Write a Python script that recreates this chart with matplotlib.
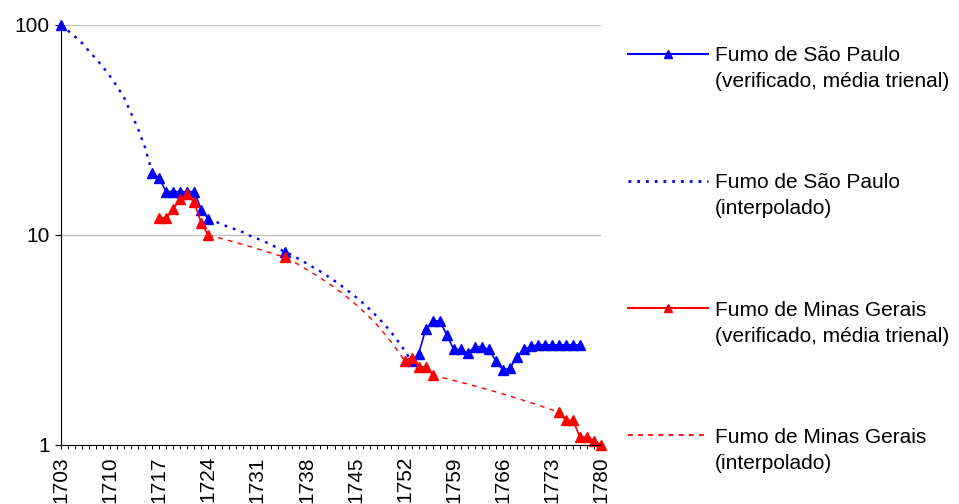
import numpy as np
import pandas as pd
import matplotlib
matplotlib.use("Agg")
import matplotlib.pyplot as plt
from matplotlib.lines import Line2D
from matplotlib.ticker import FixedLocator, MultipleLocator, NullLocator, FixedFormatter

plt.rcParams['font.family'] = ['Liberation Sans', 'DejaVu Sans']
plt.rcParams['lines.scale_dashes'] = False

# category axis
years = np.arange(1703, 1781)
label_years = list(range(1703, 1781, 7))

# Fumo de São Paulo (verificado, média trienal)
sp_ver_years = [1703] + list(range(1716, 1725)) + [1735] + list(range(1753, 1778))
sp_ver_vals = [100,
               19.8, 18.6, 16.1, 16.1, 16.1, 16.1, 16.1, 13.2, 11.9,
               8.3,
               2.5, 2.72, 3.55, 3.9, 3.9, 3.34, 2.85, 2.85, 2.73, 2.94, 2.94, 2.85, 2.52,
               2.28, 2.32, 2.62, 2.85, 2.95, 3.0, 3.0, 3.0, 3.0, 3.0, 3.0, 3.0]

# Fumo de São Paulo (interpolado)
sp_int_years = list(range(1703, 1717)) + list(range(1724, 1754))
sp_int_vals = [100, 94, 88, 82, 75, 69, 63, 57, 51, 45, 38, 32, 26, 19.8,
               11.9, 11.6, 11.2, 10.9, 10.6, 10.3, 9.9, 9.6, 9.3, 9.0, 8.6, 8.3,
               8.0, 7.66, 7.33, 7.0, 6.7, 6.37, 6.05, 5.72, 5.4, 5.08, 4.76, 4.43,
               4.11, 3.79, 3.47, 3.14, 2.82, 2.5]

# Fumo de Minas Gerais (verificado, média trienal)
mg_ver_years = list(range(1717, 1725)) + [1735] + list(range(1752, 1757)) + list(range(1774, 1781))
mg_ver_vals = [12.1, 12.0, 13.3, 14.8, 15.6, 14.3, 11.4, 10.0,
               7.83,
               2.52, 2.61, 2.36, 2.36, 2.15,
               1.43, 1.31, 1.31, 1.09, 1.09, 1.05, 1.0]

# Fumo de Minas Gerais (interpolado)
mg_int_years = list(range(1724, 1753)) + list(range(1756, 1775))
mg_int_vals = [10.0, 9.8, 9.6, 9.4, 9.2, 9.0, 8.8, 8.6, 8.4, 8.2, 8.0, 7.83,
               7.5, 7.2, 6.86, 6.55, 6.24, 5.93, 5.62, 5.31, 4.99, 4.68, 4.37, 4.06,
               3.75, 3.43, 3.12, 2.81, 2.52,
               2.15, 2.11, 2.07, 2.03, 1.99, 1.95, 1.91, 1.87, 1.83, 1.79, 1.75,
               1.71, 1.67, 1.63, 1.59, 1.55, 1.51, 1.47, 1.43]

labels = ["Fumo de São Paulo\n(verificado, média trienal)",
          "Fumo de São Paulo\n(interpolado)",
          "Fumo de Minas Gerais\n(verificado, média trienal)",
          "Fumo de Minas Gerais\n(interpolado)"]


def on_years(yrs, vals):
    # gaps (NaN) where a series has no value
    return pd.Series(vals, index=yrs).reindex(years).values


BLUE = '#0000ff'
RED = '#ff0000'
W, H = 959, 504
fig = plt.figure(figsize=(W / 100, H / 100), dpi=100)
ax = fig.add_axes([61 / W, 1 - 445 / H, 540 / W, 420 / H])

styles = [
    dict(color=BLUE, lw=1.2, marker='^', ms=7, ls='-'),
    dict(color=BLUE, lw=1.7, ls=(0, (2.0, 4.3))),
    dict(color=RED, lw=1.2, marker='^', ms=7, ls='-'),
    dict(color=RED, lw=1.0, ls=(0, (3.5, 3.8))),
]
series = [(sp_ver_years, sp_ver_vals), (sp_int_years, sp_int_vals),
          (mg_ver_years, mg_ver_vals), (mg_int_years, mg_int_vals)]

for (yrs, vals), st in zip(series, styles):
    ax.plot(years, on_years(yrs, vals), clip_on=False, **st)

ax.set_yscale('log')
ax.set_ylim(1, 100)
ax.set_xlim(1703, 1780)
ax.yaxis.set_major_locator(FixedLocator([1, 10, 100]))
ax.yaxis.set_major_formatter(FixedFormatter(['1', '10', '100']))
ax.yaxis.set_minor_locator(NullLocator())
ax.xaxis.set_major_locator(FixedLocator(label_years))
ax.xaxis.set_minor_locator(MultipleLocator(1))
ax.set_xticklabels([str(y) for y in label_years], rotation=90)

ax.grid(axis='y', which='major', color='#c0c0c0', lw=1.0)
ax.set_axisbelow(True)
for s in ['top', 'right']:
    ax.spines[s].set_visible(False)
for s in ['left', 'bottom']:
    ax.spines[s].set_color('#000000')
    ax.spines[s].set_linewidth(0.8)

ax.tick_params(axis='y', which='major', length=4, width=0.8, labelsize=15, pad=4)
ax.tick_params(axis='x', which='both', length=3, width=0.7, labelsize=15, pad=5)

# legend drawn at the right
x0, x1, xt = 628, 708, 715
base0, step = 61, 127.3
for i, (lab, st) in enumerate(zip(labels, styles)):
    yb = base0 + i * step
    yl = yb - 7.5
    fig.add_artist(Line2D([x0 / W, x1 / W], [1 - yl / H, 1 - yl / H],
                          transform=fig.transFigure, color=st['color'],
                          lw=st['lw'] + 0.3, ls=st['ls']))
    if 'marker' in st:
        fig.add_artist(Line2D([(x0 + x1) / 2 / W], [1 - yl / H],
                              transform=fig.transFigure, color=st['color'],
                              marker='^', ms=6, ls='none'))
    first, second = lab.split('\n')
    fig.text(xt / W, 1 - yb / H, first, fontsize=15, va='baseline', ha='left')
    fig.text(xt / W, 1 - (yb + 26) / H, second, fontsize=15, va='baseline', ha='left')

fig.savefig('out.png', dpi=100)
